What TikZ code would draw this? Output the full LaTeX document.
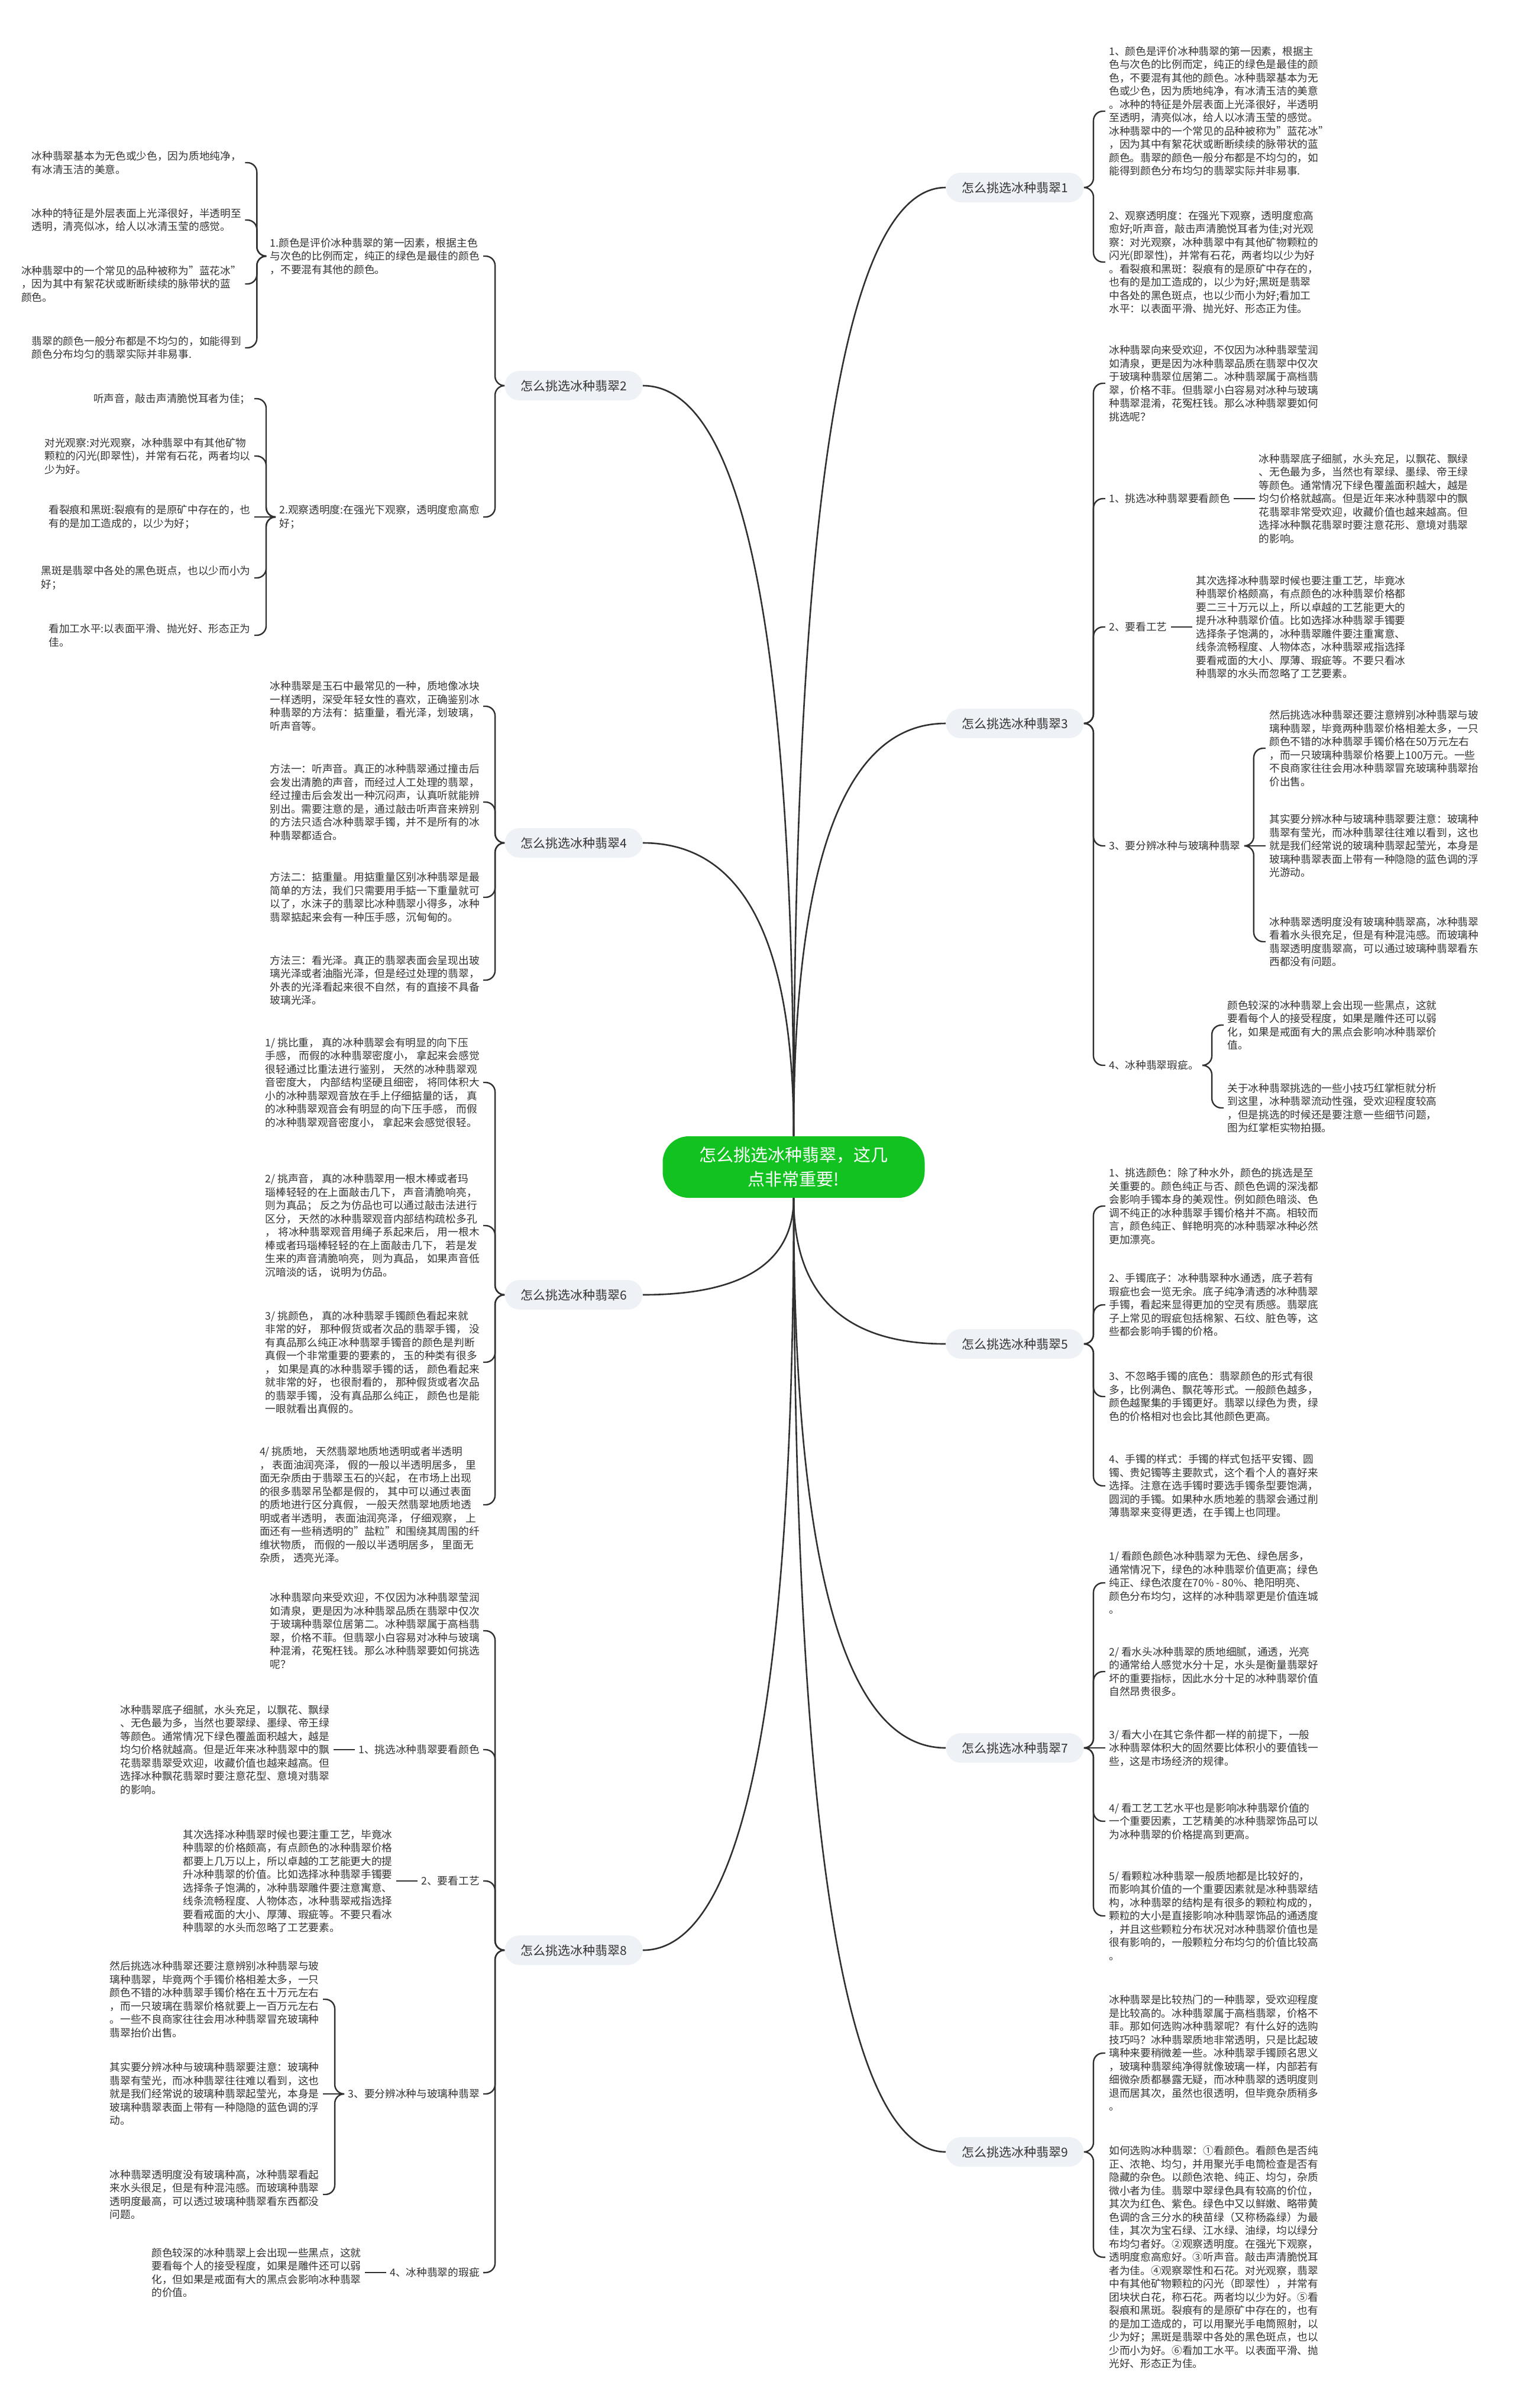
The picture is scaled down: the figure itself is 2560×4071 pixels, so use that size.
\documentclass[tikz,border=0pt]{standalone}
\usepackage{fontspec}
\setmainfont{Noto Sans CJK SC}
\usetikzlibrary{positioning,calc}
\definecolor{rootgreen}{HTML}{12C221}
\definecolor{pillgray}{HTML}{EEF1F5}
\definecolor{inkgray}{HTML}{333333}
\definecolor{linegray}{HTML}{303030}

\begin{document}
\begin{tikzpicture}[
  x=0.5pt,y=-0.5pt,
  node distance=18pt,
  root/.style={fill=rootgreen,text=white,rounded corners=22pt,align=center,
               font=\fontsize{14.5pt}{20.75pt}\selectfont,
               minimum width=221.5pt,minimum height=52pt},
  branch/.style={fill=pillgray,text=inkgray,rounded corners=12.5pt,
                 font=\fontsize{10.5pt}{13pt}\selectfont,
                 minimum width=116.5pt,minimum height=25pt},
  leaf/.style={text=inkgray,align=left,font=\fontsize{8.85pt}{11.25pt}\selectfont,
               inner xsep=3pt,inner ysep=2pt},
  link/.style={draw=linegray,line width=1.2pt,rounded corners=8pt},
  trunk/.style={draw=linegray,line width=1.3pt}
]
  \fill[white] (0,0) rectangle (2560,4071);

  % centre and main branches
  \node[root] (root) at (1342,1973) {怎么挑选冰种翡翠，这几\\点非常重要!};
  \node[branch] (b1) at (1716,317) {怎么挑选冰种翡翠1};
  \node[branch] (b2) at (970,652) {怎么挑选冰种翡翠2};
  \node[branch] (b3) at (1716,1223) {怎么挑选冰种翡翠3};
  \node[branch] (b4) at (970,1425) {怎么挑选冰种翡翠4};
  \node[branch] (b5) at (1716,2272) {怎么挑选冰种翡翠5};
  \node[branch] (b6) at (970,2189) {怎么挑选冰种翡翠6};
  \node[branch] (b7) at (1716,2955) {怎么挑选冰种翡翠7};
  \node[branch] (b8) at (970,3297) {怎么挑选冰种翡翠8};
  \node[branch] (b9) at (1716,3638) {怎么挑选冰种翡翠9};

  % branch 1
  \node[leaf,right=of b1,yshift=64.5pt] (r1a) {1、颜色是评价冰种翡翠的第一因素，根据主\\色与次色的比例而定，纯正的绿色是最佳的颜\\色，不要混有其他的颜色。冰种翡翠基本为无\\色或少色，因为质地纯净，有冰清玉洁的美意\\。冰种的特征是外层表面上光泽很好，半透明\\至透明，清亮似冰，给人以冰清玉莹的感觉。\\冰种翡翠中的一个常见的品种被称为"蓝花冰"\\，因为其中有絮花状或断断续续的脉带状的蓝\\颜色。翡翠的颜色一般分布都是不均匀的，如\\能得到颜色分布均匀的翡翠实际并非易事.};
  \node[leaf,right=of b1,yshift=-63pt] (r1b) {2、观察透明度：在强光下观察，透明度愈高\\愈好;听声音，敲击声清脆悦耳者为佳;对光观\\察：对光观察，冰种翡翠中有其他矿物颗粒的\\闪光(即翠性)，并常有石花，两者均以少为好\\。看裂痕和黑斑：裂痕有的是原矿中存在的，\\也有的是加工造成的，以少为好;黑斑是翡翠\\中各处的黑色斑点，也以少而小为好;看加工\\水平：以表面平滑、抛光好、形态正为佳。};

  % branch 3
  \node[leaf,right=of b3,yshift=287.5pt] (r3a) {冰种翡翠向来受欢迎，不仅因为冰种翡翠莹润\\如清泉，更是因为冰种翡翠品质在翡翠中仅次\\于玻璃种翡翠位居第二。冰种翡翠属于高档翡\\翠，价格不菲。但翡翠小白容易对冰种与玻璃\\种翡翠混淆，花冤枉钱。那么冰种翡翠要如何\\挑选呢？};
  \node[leaf,right=of b3,yshift=190pt] (r3b) {1、挑选冰种翡翠要看颜色};
  \node[leaf,right=of r3b] (r3b1) {冰种翡翠底子细腻，水头充足，以飘花、飘绿\\、无色最为多，当然也有翠绿、墨绿、帝王绿\\等颜色。通常情况下绿色覆盖面积越大，越是\\均匀价格就越高。但是近年来冰种翡翠中的飘\\花翡翠非常受欢迎，收藏价值也越来越高。但\\选择冰种飘花翡翠时要注意花形、意境对翡翠\\的影响。};
  \node[leaf,right=of b3,yshift=81.5pt] (r3c) {2、要看工艺};
  \node[leaf,right=of r3c] (r3c1) {其次选择冰种翡翠时候也要注重工艺，毕竟冰\\种翡翠价格颇高，有点颜色的冰种翡翠价格都\\要二三十万元以上，所以卓越的工艺能更大的\\提升冰种翡翠价值。比如选择冰种翡翠手镯要\\选择条子饱满的，冰种翡翠雕件要注重寓意、\\线条流畅程度、人物体态，冰种翡翠戒指选择\\要看戒面的大小、厚薄、瑕疵等。不要只看冰\\种翡翠的水头而忽略了工艺要素。};
  \node[leaf,right=of b3,yshift=-103.5pt] (r3d) {3、要分辨冰种与玻璃种翡翠};
  \node[leaf,right=of r3d,yshift=82.5pt] (r3d1) {然后挑选冰种翡翠还要注意辨别冰种翡翠与玻\\璃种翡翠，毕竟两种翡翠价格相差太多，一只\\颜色不错的冰种翡翠手镯价格在50万元左右\\，而一只玻璃种翡翠价格要上100万元。一些\\不良商家往往会用冰种翡翠冒充玻璃种翡翠抬\\价出售。};
  \node[leaf,right=of r3d] (r3d2) {其实要分辨冰种与玻璃种翡翠要注意：玻璃种\\翡翠有莹光，而冰种翡翠往往难以看到，这也\\就是我们经常说的玻璃种翡翠起莹光，本身是\\玻璃种翡翠表面上带有一种隐隐的蓝色调的浮\\光游动。};
  \node[leaf,right=of r3d,yshift=-81pt] (r3d3) {冰种翡翠透明度没有玻璃种翡翠高，冰种翡翠\\看着水头很充足，但是有种混沌感。而玻璃种\\翡翠透明度翡翠高，可以通过玻璃种翡翠看东\\西都没有问题。};
  \node[leaf,right=of b3,yshift=-289pt] (r3e) {4、冰种翡翠瑕疵。};
  \node[leaf,right=of r3e,yshift=34pt] (r3e1) {颜色较深的冰种翡翠上会出现一些黑点，这就\\要看每个人的接受程度，如果是雕件还可以弱\\化，如果是戒面有大的黑点会影响冰种翡翠价\\值。};
  \node[leaf,right=of r3e,yshift=-36pt] (r3e2) {关于冰种翡翠挑选的一些小技巧红掌柜就分析\\到这里，冰种翡翠流动性强，受欢迎程度较高\\，但是挑选的时候还是要注意一些细节问题，\\图为红掌柜实物拍摄。};

  % branch 5
  \node[leaf,right=of b5,yshift=116.5pt] (r5a) {1、挑选颜色：除了种水外，颜色的挑选是至\\关重要的。颜色纯正与否、颜色色调的深浅都\\会影响手镯本身的美观性。例如颜色暗淡、色\\调不纯正的冰种翡翠手镯价格并不高。相较而\\言，颜色纯正、鲜艳明亮的冰种翡翠冰种必然\\更加漂亮。};
  \node[leaf,right=of b5,yshift=33pt] (r5b) {2、手镯底子：冰种翡翠种水通透，底子若有\\瑕疵也会一览无余。底子纯净清透的冰种翡翠\\手镯，看起来显得更加的空灵有质感。翡翠底\\子上常见的瑕疵包括棉絮、石纹、脏色等，这\\些都会影响手镯的价格。};
  \node[leaf,right=of b5,yshift=-44.5pt] (r5c) {3、不忽略手镯的底色：翡翠颜色的形式有很\\多，比例满色、飘花等形式。一般颜色越多，\\颜色越聚集的手镯更好。翡翠以绿色为贵，绿\\色的价格相对也会比其他颜色更高。};
  \node[leaf,right=of b5,yshift=-120pt] (r5d) {4、手镯的样式：手镯的样式包括平安镯、圆\\镯、贵妃镯等主要款式，这个看个人的喜好来\\选择。注意在选手镯时要选手镯条型要饱满，\\圆润的手镯。如果种水质地差的翡翠会通过削\\薄翡翠来变得更透，在手镯上也同理。};

  % branch 7
  \node[leaf,right=of b7,yshift=139.5pt] (r7a) {1/ 看颜色颜色冰种翡翠为无色、绿色居多，\\通常情况下，绿色的冰种翡翠价值更高；绿色\\纯正、绿色浓度在70\% - 80\%、艳阳明亮、\\颜色分布均匀，这样的冰种翡翠更是价值连城\\。};
  \node[leaf,right=of b7,yshift=64.5pt] (r7b) {2/ 看水头冰种翡翠的质地细腻，通透，光亮\\的通常给人感觉水分十足，水头是衡量翡翠好\\坏的重要指标，因此水分十足的冰种翡翠价值\\自然昂贵很多。};
  \node[leaf,right=of b7] (r7c) {3/ 看大小在其它条件都一样的前提下，一般\\冰种翡翠体积大的固然要比体积小的要值钱一\\些，这是市场经济的规律。};
  \node[leaf,right=of b7,yshift=-62pt] (r7d) {4/ 看工艺工艺水平也是影响冰种翡翠价值的\\一个重要因素，工艺精美的冰种翡翠饰品可以\\为冰种翡翠的价格提高到更高。};
  \node[leaf,right=of b7,yshift=-142pt] (r7e) {5/ 看颗粒冰种翡翠一般质地都是比较好的，\\而影响其价值的一个重要因素就是冰种翡翠结\\构，冰种翡翠的结构是有很多的颗粒构成的，\\颗粒的大小是直接影响冰种翡翠饰品的通透度\\，并且这些颗粒分布状况对冰种翡翠价值也是\\很有影响的，一般颗粒分布均匀的价值比较高\\。};

  % branch 9
  \node[leaf,right=of b9,yshift=83.5pt] (r9a) {冰种翡翠是比较热门的一种翡翠，受欢迎程度\\是比较高的。冰种翡翠属于高档翡翠，价格不\\菲。那如何选购冰种翡翠呢？有什么好的选购\\技巧吗？冰种翡翠质地非常透明，只是比起玻\\璃种来要稍微差一些。冰种翡翠手镯顾名思义\\，玻璃种翡翠纯净得就像玻璃一样，内部若有\\细微杂质都暴露无疑，而冰种翡翠的透明度则\\退而居其次，虽然也很透明，但毕竟杂质稍多\\。};
  \node[leaf,right=of b9,yshift=-89pt] (r9b) {如何选购冰种翡翠：①看颜色。看颜色是否纯\\正、浓艳、均匀，并用聚光手电筒检查是否有\\隐藏的杂色。以颜色浓艳、纯正、均匀，杂质\\微小者为佳。翡翠中翠绿色具有较高的价位，\\其次为红色、紫色。绿色中又以鲜嫩、略带黄\\色调的含三分水的秧苗绿（又称杨淼绿）为最\\佳，其次为宝石绿、江水绿、油绿，均以绿分\\布均匀者好。②观察透明度。在强光下观察，\\透明度愈高愈好。③听声音。敲击声清脆悦耳\\者为佳。④观察翠性和石花。对光观察，翡翠\\中有其他矿物颗粒的闪光（即翠性），并常有\\团块状白花，称石花。两者均以少为好。⑤看\\裂痕和黑斑。裂痕有的是原矿中存在的，也有\\的是加工造成的，可以用聚光手电筒照射，以\\少为好；黑斑是翡翠中各处的黑色斑点，也以\\少而小为好。⑥看加工水平。以表面平滑、抛\\光好、形态正为佳。};

  % branch 2
  \node[leaf,left=of b2,yshift=109.5pt] (l2a) {1.颜色是评价冰种翡翠的第一因素，根据主色\\与次色的比例而定，纯正的绿色是最佳的颜色\\，不要混有其他的颜色。};
  \node[leaf,left=of l2a,yshift=79pt] (l2a1) {冰种翡翠基本为无色或少色，因为质地纯净，\\有冰清玉洁的美意。};
  \node[leaf,left=of l2a,yshift=30.5pt] (l2a2) {冰种的特征是外层表面上光泽很好，半透明至\\透明，清亮似冰，给人以冰清玉莹的感觉。};
  \node[leaf,left=of l2a,yshift=-23.5pt] (l2a3) {冰种翡翠中的一个常见的品种被称为"蓝花冰"\\，因为其中有絮花状或断断续续的脉带状的蓝\\颜色。};
  \node[leaf,left=of l2a,yshift=-77.5pt] (l2a4) {翡翠的颜色一般分布都是不均匀的，如能得到\\颜色分布均匀的翡翠实际并非易事.};
  \node[leaf,left=of b2,yshift=-111pt] (l2b) {2.观察透明度:在强光下观察，透明度愈高愈\\好；};
  \node[leaf,left=of l2b,yshift=100pt] (l2b1) {听声音，敲击声清脆悦耳者为佳；};
  \node[leaf,left=of l2b,yshift=51.5pt] (l2b2) {对光观察:对光观察，冰种翡翠中有其他矿物\\颗粒的闪光(即翠性)，并常有石花，两者均以\\少为好。};
  \node[leaf,left=of l2b] (l2b3) {看裂痕和黑斑:裂痕有的是原矿中存在的，也\\有的是加工造成的，以少为好；};
  \node[leaf,left=of l2b,yshift=-51.5pt] (l2b4) {黑斑是翡翠中各处的黑色斑点，也以少而小为\\好；};
  \node[leaf,left=of l2b,yshift=-100pt] (l2b5) {看加工水平:以表面平滑、抛光好、形态正为\\佳。};

  % branch 4
  \node[leaf,left=of b4,yshift=115.5pt] (l4a) {冰种翡翠是玉石中最常见的一种，质地像冰块\\一样透明，深受年轻女性的喜欢，正确鉴别冰\\种翡翠的方法有：掂重量，看光泽，划玻璃，\\听声音等。};
  \node[leaf,left=of b4,yshift=34.5pt] (l4b) {方法一：听声音。真正的冰种翡翠通过撞击后\\会发出清脆的声音，而经过人工处理的翡翠，\\经过撞击后会发出一种沉闷声，认真听就能辨\\别出。需要注意的是，通过敲击听声音来辨别\\的方法只适合冰种翡翠手镯，并不是所有的冰\\种翡翠都适合。};
  \node[leaf,left=of b4,yshift=-46pt] (l4c) {方法二：掂重量。用掂重量区别冰种翡翠是最\\简单的方法，我们只需要用手掂一下重量就可\\以了，水沫子的翡翠比冰种翡翠小得多，冰种\\翡翠掂起来会有一种压手感，沉甸甸的。};
  \node[leaf,left=of b4,yshift=-116pt] (l4d) {方法三：看光泽。真正的翡翠表面会呈现出玻\\璃光泽或者油脂光泽，但是经过处理的翡翠，\\外表的光泽看起来很不自然，有的直接不具备\\玻璃光泽。};

  % branch 6
  \node[leaf,left=of b6,yshift=179.5pt] (l6a) {1/ 挑比重， 真的冰种翡翠会有明显的向下压\\手感， 而假的冰种翡翠密度小， 拿起来会感觉\\很轻通过比重法进行鉴别， 天然的冰种翡翠观\\音密度大， 内部结构坚硬且细密， 将同体积大\\小的冰种翡翠观音放在手上仔细掂量的话， 真\\的冰种翡翠观音会有明显的向下压手感， 而假\\的冰种翡翠观音密度小， 拿起来会感觉很轻。};
  \node[leaf,left=of b6,yshift=58.5pt] (l6b) {2/ 挑声音， 真的冰种翡翠用一根木棒或者玛\\瑙棒轻轻的在上面敲击几下， 声音清脆响亮，\\则为真品； 反之为仿品也可以通过敲击法进行\\区分， 天然的冰种翡翠观音内部结构疏松多孔\\， 将冰种翡翠观音用绳子系起来后， 用一根木\\棒或者玛瑙棒轻轻的在上面敲击几下， 若是发\\生来的声音清脆响亮， 则为真品， 如果声音低\\沉暗淡的话， 说明为仿品。};
  \node[leaf,left=of b6,yshift=-57pt] (l6c) {3/ 挑颜色， 真的冰种翡翠手镯颜色看起来就\\非常的好， 那种假货或者次品的翡翠手镯， 没\\有真品那么纯正冰种翡翠手镯音的颜色是判断\\真假一个非常重要的要素的， 玉的种类有很多\\， 如果是真的冰种翡翠手镯的话， 颜色看起来\\就非常的好， 也很耐看的， 那种假货或者次品\\的翡翠手镯， 没有真品那么纯正， 颜色也是能\\一眼就看出真假的。};
  \node[leaf,left=of b6,yshift=-177.5pt] (l6d) {4/ 挑质地， 天然翡翠地质地透明或者半透明\\， 表面油润亮泽， 假的一般以半透明居多， 里\\面无杂质由于翡翠玉石的兴起， 在市场上出现\\的很多翡翠吊坠都是假的， 其中可以通过表面\\的质地进行区分真假， 一般天然翡翠地质地透\\明或者半透明， 表面油润亮泽， 仔细观察， 上\\面还有一些稍透明的"盐粒"和围绕其周围的纤\\维状物质， 而假的一般以半透明居多， 里面无\\杂质， 透亮光泽。};

  % branch 8
  \node[leaf,left=of b8,yshift=270pt] (l8a) {冰种翡翠向来受欢迎，不仅因为冰种翡翠莹润\\如清泉，更是因为冰种翡翠品质在翡翠中仅次\\于玻璃种翡翠位居第二。冰种翡翠属于高档翡\\翠，价格不菲。但翡翠小白容易对冰种与玻璃\\种混淆，花冤枉钱。那么冰种翡翠要如何挑选\\呢？};
  \node[leaf,left=of b8,yshift=169.5pt] (l8b) {1、挑选冰种翡翠要看颜色};
  \node[leaf,left=of l8b] (l8b1) {冰种翡翠底子细腻，水头充足，以飘花、飘绿\\、无色最为多，当然也要翠绿、墨绿、帝王绿\\等颜色。通常情况下绿色覆盖面积越大，越是\\均匀价格就越高。但是近年来冰种翡翠中的飘\\花翡翠翡翠受欢迎，收藏价值也越来越高。但\\选择冰种飘花翡翠时要注意花型、意境对翡翠\\的影响。};
  \node[leaf,left=of b8,yshift=58.5pt] (l8c) {2、要看工艺};
  \node[leaf,left=of l8c] (l8c1) {其次选择冰种翡翠时候也要注重工艺，毕竟冰\\种翡翠的价格颇高，有点颜色的冰种翡翠价格\\都要上几万以上，所以卓越的工艺能更大的提\\升冰种翡翠的价值。比如选择冰种翡翠手镯要\\选择条子饱满的，冰种翡翠雕件要注意寓意、\\线条流畅程度、人物体态，冰种翡翠戒指选择\\要看戒面的大小、厚薄、瑕疵等。不要只看冰\\种翡翠的水头而忽略了工艺要素。};
  \node[leaf,left=of b8,yshift=-121.5pt] (l8d) {3、要分辨冰种与玻璃种翡翠};
  \node[leaf,left=of l8d,yshift=80pt] (l8d1) {然后挑选冰种翡翠还要注意辨别冰种翡翠与玻\\璃种翡翠，毕竟两个手镯价格相差太多，一只\\颜色不错的冰种翡翠手镯价格在五十万元左右\\，而一只玻璃在翡翠价格就要上一百万元左右\\。一些不良商家往往会用冰种翡翠冒充玻璃种\\翡翠抬价出售。};
  \node[leaf,left=of l8d] (l8d2) {其实要分辨冰种与玻璃种翡翠要注意：玻璃种\\翡翠有莹光，而冰种翡翠往往难以看到，这也\\就是我们经常说的玻璃种翡翠起莹光，本身是\\玻璃种翡翠表面上带有一种隐隐的蓝色调的浮\\动。};
  \node[leaf,left=of l8d,yshift=-85pt] (l8d3) {冰种翡翠透明度没有玻璃种高，冰种翡翠看起\\来水头很足，但是有种混沌感。而玻璃种翡翠\\透明度最高，可以透过玻璃种翡翠看东西都没\\问题。};
  \node[leaf,left=of b8,yshift=-272.5pt] (l8e) {4、冰种翡翠的瑕疵};
  \node[leaf,left=of l8e] (l8e1) {颜色较深的冰种翡翠上会出现一些黑点，这就\\要看每个人的接受程度，如果是雕件还可以弱\\化，但如果是戒面有大的黑点会影响冰种翡翠\\的价值。};

  % trunk curves
  \foreach \a/\b in {root.north/b1.west,root.north/b2.east,root.north/b3.west,root.north/b4.east,
                     root.south/b5.west,root.south/b6.east,root.south/b7.west,root.south/b8.east,
                     root.south/b9.west}
  {
    \coordinate (k) at (\a |- \b);
    \draw[trunk] (\a) .. controls ($(\a)!2/3!(k)$) and ($(\b)!2/3!(k)$) .. (\b);
  }

  % right-hand braces
  \foreach \x in {r1a,r1b}
    \draw[link] (b1.east) -- ++(8pt,0) |- (\x.west);
  \foreach \x in {r3a,r3b,r3c,r3d,r3e}
    \draw[link] (b3.east) -- ++(8pt,0) |- (\x.west);
  \draw[link] (r3b) -- (r3b1);
  \draw[link] (r3c) -- (r3c1);
  \foreach \x in {r3d1,r3d3}
    \draw[link] (r3d.east) -- ++(8pt,0) |- (\x.west);
  \draw[link] (r3d) -- (r3d2);
  \foreach \x in {r3e1,r3e2}
    \draw[link] (r3e.east) -- ++(8pt,0) |- (\x.west);
  \foreach \x in {r5a,r5b,r5c,r5d}
    \draw[link] (b5.east) -- ++(8pt,0) |- (\x.west);
  \foreach \x in {r7a,r7b,r7d,r7e}
    \draw[link] (b7.east) -- ++(8pt,0) |- (\x.west);
  \draw[link] (b7) -- (r7c);
  \foreach \x in {r9a,r9b}
    \draw[link] (b9.east) -- ++(8pt,0) |- (\x.west);

  % left-hand braces
  \foreach \x in {l2a,l2b}
    \draw[link] (b2.west) -- ++(-8pt,0) |- (\x.east);
  \foreach \x in {l2a1,l2a2,l2a3,l2a4}
    \draw[link] (l2a.west) -- ++(-8pt,0) |- (\x.east);
  \foreach \x in {l2b1,l2b2,l2b4,l2b5}
    \draw[link] (l2b.west) -- ++(-8pt,0) |- (\x.east);
  \draw[link] (l2b) -- (l2b3);
  \foreach \x in {l4a,l4b,l4c,l4d}
    \draw[link] (b4.west) -- ++(-8pt,0) |- (\x.east);
  \foreach \x in {l6a,l6b,l6c,l6d}
    \draw[link] (b6.west) -- ++(-8pt,0) |- (\x.east);
  \foreach \x in {l8a,l8b,l8c,l8d,l8e}
    \draw[link] (b8.west) -- ++(-8pt,0) |- (\x.east);
  \draw[link] (l8b) -- (l8b1);
  \draw[link] (l8c) -- (l8c1);
  \foreach \x in {l8d1,l8d3}
    \draw[link] (l8d.west) -- ++(-8pt,0) |- (\x.east);
  \draw[link] (l8d) -- (l8d2);
  \draw[link] (l8e) -- (l8e1);
\end{tikzpicture}
\end{document}
